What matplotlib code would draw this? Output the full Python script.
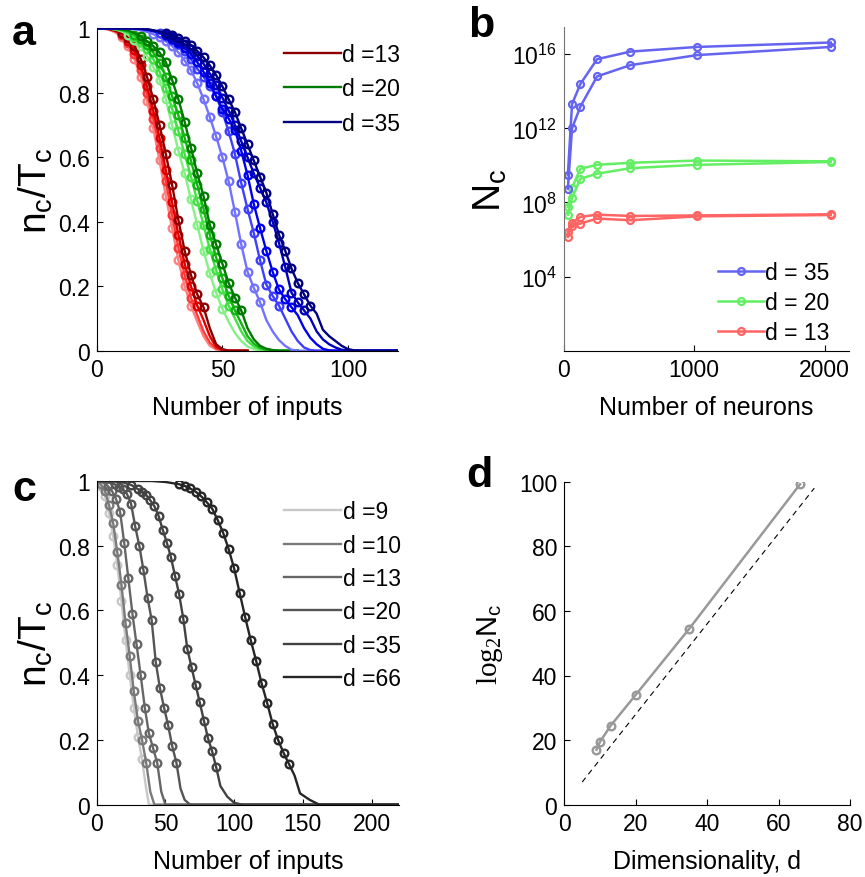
import numpy as np
import matplotlib.pyplot as plt
from matplotlib.lines import Line2D

plt.rcParams['font.family'] = ['Liberation Sans', 'DejaVu Sans']
plt.rcParams['mathtext.fontset'] = 'custom'
plt.rcParams['mathtext.rm'] = 'Liberation Serif'
plt.rcParams['mathtext.sf'] = 'Liberation Sans'

# ---- panel a: n_c/T_c vs number of inputs (shades = network sizes)
x_red = np.arange(0, 60.1, 2.5)
red_curves = [
    [1, 0.999, 0.995, 0.987, 0.972, 0.945, 0.905, 0.85, 0.775, 0.69, 0.59, 0.48, 0.38, 0.28, 0.2, 0.14, 0.09, 0.045, 0.015, 0.004, 0, 0, 0, 0, 0],
    [1, 1, 0.997, 0.99, 0.978, 0.955, 0.92, 0.87, 0.80, 0.72, 0.63, 0.525, 0.42, 0.32, 0.235, 0.165, 0.11, 0.06, 0.025, 0.007, 0.001, 0, 0, 0, 0],
    [1, 1, 0.998, 0.992, 0.982, 0.962, 0.932, 0.885, 0.82, 0.745, 0.66, 0.56, 0.46, 0.36, 0.27, 0.2, 0.14, 0.095, 0.045, 0.012, 0.002, 0, 0, 0, 0],
    [1, 1, 0.998, 0.993, 0.985, 0.97, 0.945, 0.905, 0.85, 0.78, 0.70, 0.61, 0.515, 0.405, 0.31, 0.235, 0.175, 0.135, 0.07, 0.02, 0.005, 0, 0, 0, 0],
]
red_cols = ['#FF8080', '#FF3838', '#DD0000', '#8E0000']

x_green = np.arange(0, 80.1, 2.5)
green_curves = [
    [1, 1, 0.999, 0.996, 0.99, 0.98, 0.965, 0.945, 0.915, 0.88, 0.84, 0.78, 0.7, 0.62, 0.55, 0.47, 0.39, 0.31, 0.24, 0.18, 0.13, 0.09, 0.055, 0.03, 0.013, 0.005, 0.001, 0, 0, 0, 0, 0, 0],
    [1, 1, 0.999, 0.997, 0.993, 0.986, 0.974, 0.957, 0.935, 0.905, 0.865, 0.815, 0.75, 0.68, 0.61, 0.54, 0.465, 0.39, 0.315, 0.25, 0.19, 0.14, 0.1, 0.06, 0.03, 0.013, 0.005, 0.001, 0, 0, 0, 0, 0],
    [1, 1, 1, 0.998, 0.995, 0.99, 0.98, 0.966, 0.948, 0.925, 0.893, 0.85, 0.79, 0.73, 0.66, 0.59, 0.515, 0.44, 0.36, 0.29, 0.225, 0.17, 0.125, 0.085, 0.045, 0.022, 0.009, 0.003, 0.001, 0, 0, 0, 0],
    [1, 1, 1, 0.999, 0.997, 0.993, 0.986, 0.975, 0.96, 0.945, 0.925, 0.895, 0.84, 0.78, 0.71, 0.63, 0.55, 0.48, 0.39, 0.33, 0.27, 0.21, 0.165, 0.125, 0.07, 0.035, 0.015, 0.006, 0.002, 0, 0, 0, 0],
]
green_cols = ['#85F085', '#44E044', '#12B412', '#007A00']

x_blue = np.arange(0, 120.1, 2.5)
blue_curves = [
    [1, 1, 1, 1, 1, 0.999, 0.997, 0.994, 0.989, 0.982, 0.972, 0.96, 0.945, 0.925, 0.9, 0.87, 0.83, 0.78, 0.725, 0.665, 0.6, 0.525, 0.43, 0.33, 0.245, 0.195, 0.15, 0.095, 0.06, 0.033, 0.015, 0.003, 0,
     0, 0, 0, 0, 0, 0, 0, 0, 0, 0, 0, 0, 0, 0, 0, 0],
    [1, 1, 1, 1, 1, 1, 0.999, 0.997, 0.994, 0.99, 0.984, 0.976, 0.965, 0.95, 0.93, 0.905, 0.875, 0.85, 0.82, 0.79, 0.74, 0.68, 0.61, 0.52, 0.44, 0.365, 0.28, 0.205, 0.17, 0.14, 0.1, 0.06, 0.03, 0.01, 0.002, 0,
     0, 0, 0, 0, 0, 0, 0, 0, 0, 0, 0, 0, 0],
    [1, 1, 1, 1, 1, 1, 0.999, 0.998, 0.996, 0.992, 0.986, 0.978, 0.968, 0.955, 0.94, 0.92, 0.895, 0.865, 0.83, 0.79, 0.75, 0.72, 0.685, 0.62, 0.545, 0.455, 0.38, 0.31, 0.245, 0.19, 0.16, 0.135, 0.11, 0.07, 0.04, 0.02, 0.006, 0.001,
     0, 0, 0, 0, 0, 0, 0, 0, 0, 0, 0],
    [1, 1, 1, 1, 1, 1, 1, 0.999, 0.997, 0.993, 0.988, 0.982, 0.973, 0.962, 0.95, 0.935, 0.915, 0.89, 0.86, 0.825, 0.785, 0.745, 0.70, 0.65, 0.60, 0.55, 0.505, 0.46, 0.40, 0.335, 0.26, 0.18, 0.15, 0.125, 0.1, 0.06, 0.035, 0.02, 0.01, 0.003, 0.001,
     0, 0, 0, 0, 0, 0, 0, 0],
    [1, 1, 1, 1, 1, 1, 1, 0.999, 0.997, 0.994, 0.99, 0.985, 0.978, 0.97, 0.96, 0.948, 0.93, 0.91, 0.885, 0.855, 0.82, 0.78, 0.74, 0.69, 0.64, 0.59, 0.54, 0.49, 0.425, 0.36, 0.31, 0.255, 0.21, 0.175, 0.14, 0.115, 0.065, 0.045, 0.03, 0.015, 0.005, 0.001,
     0, 0, 0, 0, 0, 0, 0],
]
blue_cols = ['#7272FF', '#3E3EFF', '#0000F0', '#0000BE', '#000080']

# ---- panel b: N_c vs number of neurons (two runs per d), log10 values
neurons = [32, 64, 128, 256, 512, 1024, 2048]
log_nc_35 = [[9.5, 13.31, 14.39, 15.73, 16.14, 16.39, 16.63],
             [8.74, 12.0, 13.17, 14.8, 15.41, 15.95, 16.39]]
log_nc_20 = [[7.76, 8.8, 9.82, 10.03, 10.14, 10.26, 10.22],
             [7.34, 8.24, 9.28, 9.55, 9.85, 10.03, 10.18]]
log_nc_13 = [[6.41, 6.91, 7.22, 7.34, 7.27, 7.3, 7.36],
             [6.15, 6.75, 6.86, 7.13, 7.04, 7.25, 7.32]]

# ---- panel c: different dimensionalities
c_labels = ['d =9', 'd =10', 'd =13', 'd =20', 'd =35', 'd =66']
c_cols = ['#C8C8C8', '#7A7A7A', '#666666', '#555555', '#424242', '#262626']
c_x = [
    [0, 3, 6, 9, 12, 15, 18, 21, 24, 27, 30, 33, 36, 38, 220],
    [0, 3, 6, 9, 12, 15, 18, 21, 24, 27, 30, 33, 36, 39, 42, 220],
    [0, 5, 8, 11, 14, 17, 20, 23, 26, 29, 32, 35, 38, 41, 44, 47, 50, 220],
    [0, 5, 10, 13, 16, 19, 22, 25, 28, 31, 34, 37, 40, 43, 46, 49, 52, 55, 58, 61, 64, 68, 220],
    [0, 10, 20, 25, 30, 33, 36, 39, 42, 45, 48, 51, 54, 57, 60, 63, 66, 69, 72, 75, 78, 81, 84, 87, 90, 95, 100, 106, 220],
    [0, 40, 50, 60, 64, 68, 72, 76, 80, 84, 88, 92, 96, 100, 104, 108, 112, 116, 120, 124, 128, 132, 136, 140, 144, 148, 155, 162, 220],
]
c_y = [
    [1, 0.985, 0.955, 0.9, 0.83, 0.74, 0.63, 0.51, 0.4, 0.3, 0.21, 0.14, 0.05, 0, 0],
    [1, 0.99, 0.97, 0.925, 0.87, 0.78, 0.68, 0.56, 0.46, 0.35, 0.26, 0.2, 0.13, 0.04, 0, 0],
    [1, 0.995, 0.985, 0.97, 0.945, 0.905, 0.81, 0.7, 0.59, 0.495, 0.4, 0.3, 0.22, 0.175, 0.13, 0.04, 0, 0],
    [1, 1, 0.995, 0.99, 0.983, 0.975, 0.96, 0.93, 0.86, 0.8, 0.725, 0.64, 0.57, 0.44, 0.36, 0.3, 0.245, 0.18, 0.13, 0.05, 0.015, 0, 0],
    [1, 1, 0.995, 0.988, 0.975, 0.967, 0.957, 0.94, 0.922, 0.893, 0.85, 0.81, 0.765, 0.707, 0.65, 0.575, 0.48, 0.425, 0.37, 0.316, 0.26, 0.205, 0.165, 0.115, 0.058, 0.025, 0.006, 0, 0],
    [1, 1, 0.997, 0.99, 0.985, 0.977, 0.967, 0.953, 0.935, 0.915, 0.88, 0.84, 0.79, 0.73, 0.655, 0.58, 0.51, 0.445, 0.375, 0.315, 0.25, 0.2, 0.16, 0.125, 0.09, 0.035, 0.015, 0, 0],
]

# ---- panel d: log2 Nc vs d
dims = [9, 10, 13, 20, 35, 66]
log2_nc = [17, 19.5, 24.5, 34, 54.5, 99.2]
ref_d = [5, 70]
ref_log2 = [7, 98]

W, H = 865, 878
fig = plt.figure(figsize=(W / 100, H / 100), dpi=100)

TICK = 16.5
XLAB = 18
YLAB = 28


def box(l, r, t, b):
    return [l / W, 1 - b / H, (r - l) / W, (b - t) / H]


def style(ax):
    for s in ['top', 'right']:
        ax.spines[s].set_visible(False)
    for s in ['left', 'bottom']:
        ax.spines[s].set_linewidth(0.8)
    ax.tick_params(direction='in', length=4, width=0.8, labelsize=TICK, pad=5)


def curves(ax, x, ys, col, lo=0.12, hi=0.985):
    x = np.asarray(x, float)
    ys = np.asarray(ys, float)
    ax.plot(x, ys, color=col, lw=1.7)
    m = (ys >= lo) & (ys <= hi)
    ax.plot(x[m], ys[m], 'o', mfc='none', mec=col, ms=5.5, mew=1.7)


# a
ax = fig.add_axes(box(96.7, 398.3, 29.3, 351.7))
style(ax)
for xs, group, cols in [(x_red, red_curves, red_cols), (x_green, green_curves, green_cols),
                        (x_blue, blue_curves, blue_cols)]:
    for ys, col in zip(group, cols):
        curves(ax, xs, ys, col)
ax.set_xlim(0, 120)
ax.set_ylim(0, 1)
ax.set_xticks([0, 50, 100])
ax.set_yticks([0, 0.2, 0.4, 0.6, 0.8, 1])
ax.set_yticklabels(['0', '0.2', '0.4', '0.6', '0.8', '1'])
ax.set_xlabel('Number of inputs', fontsize=XLAB, labelpad=10)
ax.set_ylabel(r'$\mathsf{n_c/T_c}$', fontsize=YLAB, labelpad=2)
hs = [Line2D([], [], color=c, lw=1.7) for c in [red_cols[-1], green_cols[-1], blue_cols[-1]]]
ax.legend(hs, ['d =13', 'd =20', 'd =35'], loc='upper left', bbox_to_anchor=(0.62, 0.955),
          frameon=False, fontsize=16.5, handlelength=2.5, handletextpad=0.05,
          labelspacing=0.5, borderpad=0, borderaxespad=0)

# b
ax = fig.add_axes(box(563.7, 849.3, 28.3, 351.7))
style(ax)
ax.spines['left'].set_color('0.45')
for runs, col in [(log_nc_13, '#FF6464'), (log_nc_20, '#64EE64'), (log_nc_35, '#6464F0')]:
    for r in runs:
        ax.plot(neurons, 10.0 ** np.array(r), '-o', color=col, mfc='none', ms=5, mew=1.6, lw=1.8)
ax.set_yscale('log')
ax.set_xlim(0, 2190)
ax.set_ylim(1, 10 ** 17.45)
ax.set_xticks([0, 1000, 2000])
ax.set_yticks([1e4, 1e8, 1e12, 1e16])
ax.set_yticklabels([r'$\mathsf{10^{4}}$', r'$\mathsf{10^{8}}$', r'$\mathsf{10^{12}}$', r'$\mathsf{10^{16}}$'])
ax.minorticks_off()
ax.set_xlabel('Number of neurons', fontsize=XLAB, labelpad=10)
ax.set_ylabel(r'$\mathsf{N_c}$', fontsize=YLAB, labelpad=2)
hs = [Line2D([], [], color=c, marker='o', mfc='none', ms=5, mew=1.6, lw=1.8)
      for c in ['#6464F0', '#64EE64', '#FF6464']]
ax.legend(hs, ['d = 35', 'd = 20', 'd = 13'], loc='lower right', bbox_to_anchor=(0.93, 0.02),
          frameon=False, fontsize=16.5, handlelength=2.0, handletextpad=0.05,
          labelspacing=0.3, borderpad=0, borderaxespad=0)

# c
ax = fig.add_axes(box(96.7, 399, 482, 805.7))
style(ax)
for xs, ys, col in zip(c_x, c_y, c_cols):
    curves(ax, xs, ys, col, lo=0.1, hi=0.99)
ax.set_xlim(0, 220)
ax.set_ylim(0, 1)
ax.set_xticks([0, 50, 100, 150, 200])
ax.set_yticks([0, 0.2, 0.4, 0.6, 0.8, 1])
ax.set_yticklabels(['0', '0.2', '0.4', '0.6', '0.8', '1'])
ax.set_xlabel('Number of inputs', fontsize=XLAB, labelpad=10)
ax.set_ylabel(r'$\mathsf{n_c/T_c}$', fontsize=YLAB, labelpad=2)
hs = [Line2D([], [], color=c, lw=1.7) for c in c_cols]
ax.legend(hs, c_labels, loc='upper left', bbox_to_anchor=(0.62, 0.94),
          frameon=False, fontsize=16.5, handlelength=2.5, handletextpad=0.05,
          labelspacing=0.45, borderpad=0, borderaxespad=0)

# d
ax = fig.add_axes(box(564.3, 850, 482.7, 805.7))
style(ax)
ax.plot(dims, log2_nc, '-o', color='#999999', mfc='none', ms=5.5, mew=1.7, lw=1.8)
ax.plot(ref_d, ref_log2, '--', color='black', lw=0.8, dashes=(5, 4))
ax.set_xlim(0, 80)
ax.set_ylim(0, 100)
ax.set_xticks([0, 20, 40, 60, 80])
ax.set_yticks([0, 20, 40, 60, 80, 100])
ax.set_xlabel('Dimensionality, d', fontsize=XLAB, labelpad=10)
ax.set_ylabel(r'$\mathrm{log_2}\mathsf{N_c}$', fontsize=21, labelpad=10)

for letter, px, py in [('a', 12, 14), ('b', 468, 6), ('c', 12, 470), ('d', 466, 456)]:
    fig.text(px / W, 1 - py / H, letter, fontsize=31, fontweight='bold', va='top', ha='left')

fig.savefig('out.png', dpi=100)
